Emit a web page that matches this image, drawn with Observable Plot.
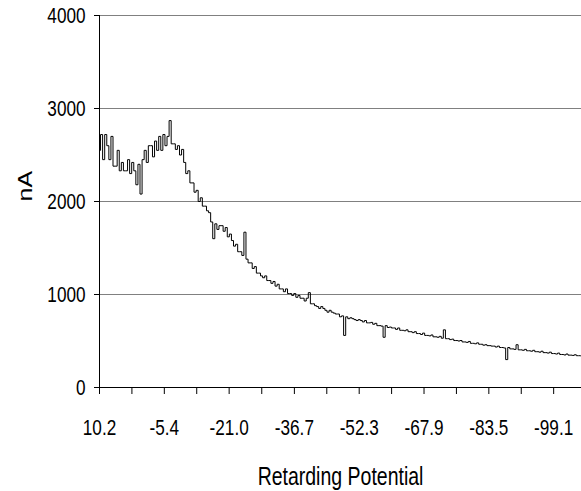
<!DOCTYPE html>
<html>
<head>
<meta charset="utf-8">
<script src="https://cdn.jsdelivr.net/npm/d3@7"></script>
<script src="https://cdn.jsdelivr.net/npm/@observablehq/plot@0.6"></script>
<style>
  html, body { margin: 0; padding: 0; background: #fff; }
</style>
</head>
<body>
<div id="chart"></div>
<script>
// Retarding potential sweep: first value and step (V)
const startPotential = 10.2;
const potentialStep = -0.5;

// Measured current (nA), one value per step
const current = [
  2550, 2720, 2450, 2720, 2600, 2450, 2700, 2380, 2380, 2550,
  2330, 2420, 2330, 2330, 2450, 2300, 2420, 2330, 2180, 2400,
  2080, 2450, 2550, 2420, 2600, 2600, 2480, 2650, 2550, 2700,
  2550, 2720, 2600, 2700, 2870, 2620, 2620, 2560, 2600, 2500,
  2560, 2420, 2300, 2330, 2200, 2200, 2100, 2120, 2000, 2040,
  1950, 1950, 1900, 1880, 1780, 1600, 1760, 1700, 1740, 1740,
  1680, 1720, 1620, 1650, 1580, 1520, 1540, 1460, 1460, 1420,
  1670, 1380, 1340, 1340, 1280, 1300, 1230, 1230, 1200, 1180,
  1200, 1150, 1150, 1120, 1140, 1090, 1110, 1060, 1060, 1030,
  1060, 1010, 1010, 990, 1010, 970, 990, 960, 960, 930,
  960, 1020, 900, 900, 880, 870, 850, 870, 850, 830,
  810, 830, 810, 800, 790, 790, 760, 770, 560, 760,
  740, 750, 740, 730, 720, 730, 720, 705, 720, 695,
  695, 700, 680, 690, 665, 665, 660, 540, 665, 645,
  650, 640, 640, 625, 640, 615, 615, 610, 620, 600,
  600, 590, 600, 580, 580, 570, 585, 560, 560, 555,
  565, 545, 545, 540, 550, 530, 620, 525, 525, 515,
  520, 505, 505, 500, 505, 490, 490, 485, 495, 475,
  475, 470, 480, 465, 465, 455, 460, 450, 450, 445,
  445, 435, 445, 430, 430, 425, 300, 430, 415, 415,
  410, 460, 405, 405, 400, 410, 395, 395, 390, 400,
  385, 385, 380, 390, 375, 375, 370, 380, 365, 365,
  360, 370, 355, 355, 350, 360, 348, 348, 345, 352,
  342, 342, 340
];

// Axis ticks
const xTickLabels = [10.2, -5.4, -21.0, -36.7, -52.3, -67.9, -83.5, -99.1];
const xTickMarks = [10.2, 2.4, -5.4, -13.2, -21.0, -28.85, -36.7, -44.5, -52.3, -60.1, -67.9, -75.7, -83.5, -91.3, -99.1];
const yTicks = [0, 1000, 2000, 3000, 4000];
const yGrid = [1000, 2000, 3000, 4000];

const xTitle = "Retarding Potential";
const yTitle = "nA";

const data = current.map((v, i) => ({x: startPotential + i * potentialStep, y: v}));

const chart = Plot.plot({
  width: 581,
  height: 491,
  marginLeft: 99,
  marginRight: 0,
  marginTop: 15,
  marginBottom: 104,
  style: {fontFamily: "'Liberation Sans', Arial, sans-serif", fontSize: "22px", background: "#fff", color: "#000"},
  x: {domain: [10.2, -105.8]},
  y: {domain: [0, 4000]},
  marks: [
    Plot.ruleY(yGrid, {stroke: "#808080", strokeWidth: 1}),
    Plot.line(data, {x: "x", y: "y", stroke: "#000", strokeWidth: 1, curve: "step", clip: true}),
    Plot.ruleX([10.2], {stroke: "#000", strokeWidth: 1}),
    Plot.ruleY([0], {stroke: "#000", strokeWidth: 1}),
    Plot.axisX({ticks: xTickMarks, tickSize: 7, tickFormat: () => "", strokeOpacity: 1, label: null}),
    Plot.axisX({ticks: xTickLabels, tickSize: 0, tickPadding: 32, tickFormat: d => d.toFixed(1), label: null}),
    Plot.axisY({ticks: yTicks, tickSize: 5, tickPadding: 9, tickFormat: d => String(d), strokeOpacity: 1, label: null}),
    Plot.text([xTitle], {frameAnchor: "bottom", dy: 89, lineAnchor: "middle", fontSize: 25, text: d => d}),
    Plot.text([yTitle], {frameAnchor: "left", dx: -74, rotate: -90, lineAnchor: "middle", fontSize: 25, text: d => d})
  ]
});

chart.querySelectorAll("text").forEach(t => {
  const tr = t.getAttribute("transform") || "";
  const rot = /rotate/.test(tr);
  t.setAttribute("transform", (tr + (rot ? " scale(1,0.78)" : " scale(0.78,1)")).trim());
});

document.getElementById("chart").appendChild(chart);
</script>
</body>
</html>
